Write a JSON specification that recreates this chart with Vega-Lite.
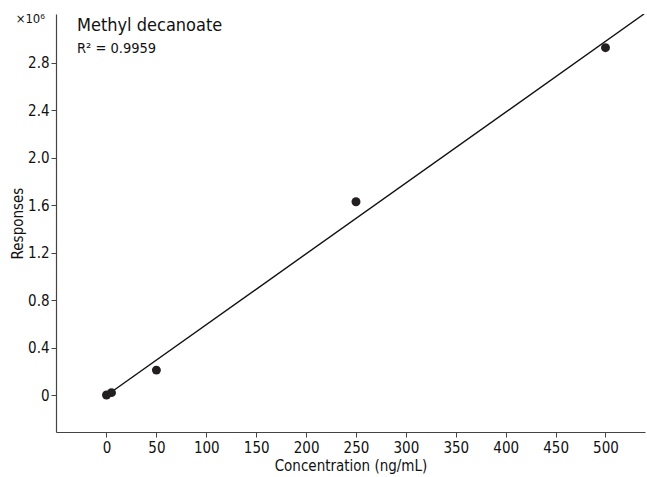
{
  "$schema": "https://vega.github.io/schema/vega-lite/v6.json",
  "autosize": {"type": "none"},
  "padding": {"left": 56, "top": 14, "right": 2, "bottom": 45},
  "width": 589,
  "height": 418,
  "background": "white",
  "config": {
    "view": {"stroke": null},
    "font": "DejaVu Sans Condensed, Roboto, sans-serif",
    "axis": {
      "labelFont": "DejaVu Sans Condensed, Roboto, sans-serif",
      "titleFont": "DejaVu Sans Condensed, Roboto, sans-serif",
      "labelFontSize": 15,
      "titleFontSize": 15,
      "titleFontWeight": "normal",
      "labelColor": "#111111",
      "titleColor": "#111111",
      "domainColor": "#444444",
      "tickColor": "#444444",
      "domainWidth": 1.2,
      "tickSize": 5,
      "grid": false
    }
  },
  "datasets": {
    "points": [
      {"conc": 0, "resp": 0.0},
      {"conc": 5, "resp": 0.02},
      {"conc": 50, "resp": 0.21},
      {"conc": 250, "resp": 1.63},
      {"conc": 500, "resp": 2.929}
    ],
    "fit": [
      {"conc": 3.5, "resp": 0.017},
      {"conc": 538.6, "resp": 3.213}
    ]
  },
  "layer": [
    {
      "data": {"name": "fit"},
      "mark": {"type": "line", "color": "#111111", "strokeWidth": 1.4, "clip": true},
      "encoding": {
        "x": {
          "field": "conc", "type": "quantitative",
          "scale": {"domain": [-50.6, 539.6], "nice": false, "zero": false},
          "axis": {"values": [0, 50, 100, 150, 200, 250, 300, 350, 400, 450, 500], "title": "Concentration (ng/mL)", "labelPadding": 3, "titlePadding": 3}
        },
        "y": {
          "field": "resp", "type": "quantitative",
          "scale": {"domain": [-0.312, 3.213], "nice": false, "zero": false},
          "axis": {"values": [0, 0.4, 0.8, 1.2, 1.6, 2.0, 2.4, 2.8], "labelExpr": "datum.value == 0 ? '0' : format(datum.value, '.1f')", "title": "Responses", "labelPadding": 2, "titlePadding": 2}
        }
      }
    },
    {
      "data": {"name": "points"},
      "mark": {"type": "circle", "color": "#231f20", "opacity": 1, "size": 80},
      "encoding": {
        "x": {"field": "conc", "type": "quantitative"},
        "y": {"field": "resp", "type": "quantitative"}
      }
    },
    {
      "data": {"values": [{}]},
      "mark": {"type": "text", "text": "Methyl decanoate", "fontSize": 18, "align": "left", "baseline": "alphabetic", "color": "#111111", "font": "DejaVu Sans Condensed, Roboto, sans-serif"},
      "encoding": {"x": {"datum": -29.6, "type": "quantitative"}, "y": {"datum": 3.07, "type": "quantitative"}}
    },
    {
      "data": {"values": [{}]},
      "mark": {"type": "text", "text": "R² = 0.9959", "fontSize": 14.5, "align": "left", "baseline": "alphabetic", "color": "#111111", "font": "DejaVu Sans Condensed, Roboto, sans-serif"},
      "encoding": {"x": {"datum": -29.6, "type": "quantitative"}, "y": {"datum": 2.884, "type": "quantitative"}}
    },
    {
      "data": {"values": [{}]},
      "mark": {"type": "text", "text": "×10⁶", "fontSize": 13, "align": "right", "baseline": "alphabetic", "dx": -11, "color": "#111111", "font": "DejaVu Sans Condensed, Roboto, sans-serif", "clip": false},
      "encoding": {"x": {"datum": -50.6, "type": "quantitative"}, "y": {"datum": 3.137, "type": "quantitative"}}
    }
  ]
}
